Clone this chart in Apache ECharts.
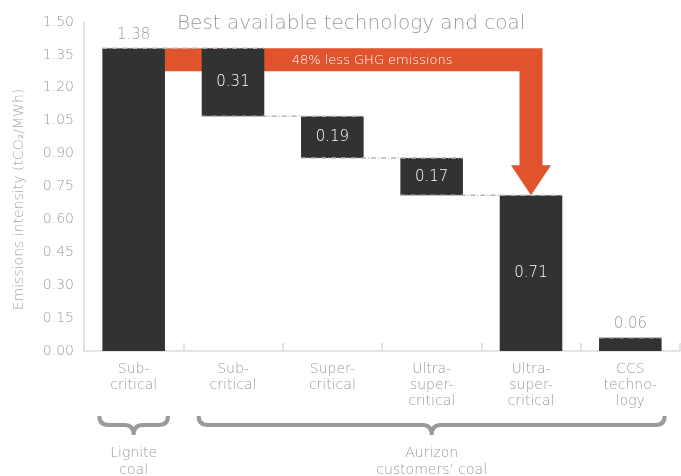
<!DOCTYPE html>
<html>
<head>
<meta charset="utf-8">
<style>
  html, body { margin: 0; padding: 0; background: #fff; }
  #chart { width: 681px; height: 476px; }
</style>
<script src="https://cdn.jsdelivr.net/npm/echarts@6/dist/echarts.min.js"></script>
</head>
<body>
<div id="chart"></div>
<script>
// waterfall data
const categories = ['Sub-\ncritical', 'Sub-\ncritical', 'Super-\ncritical', 'Ultra-\nsuper-\ncritical', 'Ultra-\nsuper-\ncritical', 'CCS\ntechno-\nlogy'];
const baseValues = [0, 1.07, 0.88, 0.71, 0, 0];
const stepValues = [1.38, 0.31, 0.19, 0.17, 0.71, 0.06];
const outsideLabel = [true, false, false, false, false, true];
// dash-dot connectors: [fromIndex, toIndex, level]
const connectors = [[0, 1, 1.38], [1, 2, 1.07], [2, 3, 0.88], [3, 4, 0.71], [5, 5, 0.06]];
// big arrow: [fromIndex, toIndex, fromLevel, toLevel]
const arrowData = [[0, 4, 1.38, 0.71]];
const arrowText = '48% less GHG emissions';
// brace groups under the axis: [fromIndex, toIndex]
const groupRanges = [[0, 0], [1, 5]];
const groupNames = ['Lignite\ncoal', 'Aurizon\ncustomers\u2019 coal'];

const FONT = '"DejaVu Sans", sans-serif';
const GREY = '#9a9a9a';
const DARK = '#313332';
const ORANGE = '#e0532c';
const BAR_RATIO = 0.63;

const chart = echarts.init(document.getElementById('chart'));

function halfBar(api) {
    return api.size([1, 0])[0] * BAR_RATIO / 2;
}

const option = {
    animation: false,
    textStyle: { fontFamily: FONT },
    title: {
        text: 'Best available technology and coal',
        left: 172,
        top: 9,
        textStyle: { color: GREY, fontSize: 20, fontWeight: 200, fontFamily: FONT }
    },
    grid: { left: 84, right: 1, top: 22, bottom: 125 },
    xAxis: {
        type: 'category',
        data: categories,
        axisLine: { lineStyle: { color: '#dcdcdc', width: 1.5 } },
        axisTick: { show: true, inside: true, length: 8, lineStyle: { color: '#dcdcdc', width: 1.5 } },
        axisLabel: { interval: 0, color: GREY, fontSize: 14, lineHeight: 16, margin: 10, fontWeight: 200 }
    },
    yAxis: {
        type: 'value',
        min: 0,
        max: 1.5,
        interval: 0.15,
        name: 'Emissions intensity (tCO\u2082/MWh)',
        nameLocation: 'middle',
        nameGap: 58,
        nameTextStyle: { color: '#aaaaaa', fontSize: 14, fontWeight: 200, padding: [0, 26, 0, 0] },
        axisLine: { show: true, lineStyle: { color: '#dcdcdc', width: 1.5 } },
        axisTick: { show: false },
        splitLine: { show: false },
        axisLabel: {
            color: GREY, fontSize: 14, margin: 10, fontWeight: 200,
            formatter: v => v.toFixed(2)
        }
    },
    series: [
        {
            type: 'custom',
            name: 'arrow',
            z: 1,
            clip: false,
            encode: { x: [0, 1], y: [2, 3] },
            data: arrowData,
            renderItem: function (params, api) {
                const p0 = api.coord([api.value(0), api.value(2)]);
                const p1 = api.coord([api.value(1), api.value(3)]);
                const hb = halfBar(api);
                const th = 23, headH = 30, headW = 40;
                const x0 = p0[0] + hb, top = p0[1];
                const cx = p1[0], tip = p1[1];
                const sl = cx - th / 2, sr = cx + th / 2;
                const nextLeft = api.coord([api.value(0) + 1, 0])[0] - hb;
                return {
                    type: 'group',
                    children: [{
                        type: 'polygon',
                        shape: {
                            points: [
                                [x0, top], [sr, top], [sr, tip - headH], [cx + headW / 2, tip - headH],
                                [cx, tip], [cx - headW / 2, tip - headH], [sl, tip - headH],
                                [sl, top + th], [x0, top + th]
                            ]
                        },
                        style: { fill: ORANGE }
                    }, {
                        type: 'text',
                        z2: 10,
                        style: {
                            text: arrowText,
                            x: (nextLeft + sr) / 2,
                            y: top + th / 2 + 1,
                            fill: '#ffffff',
                            fontSize: 13,
                            fontFamily: FONT,
                            fontWeight: 200,
                            align: 'center',
                            verticalAlign: 'middle'
                        }
                    }]
                };
            }
        },
        {
            type: 'bar',
            name: 'base',
            stack: 'w',
            z: 2,
            barWidth: (BAR_RATIO * 100) + '%',
            itemStyle: { color: 'transparent' },
            emphasis: { disabled: true },
            data: baseValues
        },
        {
            type: 'bar',
            name: 'value',
            stack: 'w',
            z: 2,
            barWidth: (BAR_RATIO * 100) + '%',
            itemStyle: { color: DARK },
            label: {
                show: true,
                position: 'inside',
                color: '#ffffff',
                fontSize: 15,
                fontWeight: 200,
                formatter: p => p.value.toFixed(2)
            },
            data: stepValues.map((v, i) => outsideLabel[i]
                ? { value: v, label: { position: 'top', color: GREY, distance: 6 } }
                : v)
        },
        {
            type: 'custom',
            name: 'connectors',
            z: 3,
            encode: { x: [0, 1], y: 2 },
            data: connectors,
            renderItem: function (params, api) {
                const a = api.coord([api.value(0), api.value(2)]);
                const b = api.coord([api.value(1), api.value(2)]);
                const hb = halfBar(api);
                return {
                    type: 'line',
                    shape: { x1: a[0] - hb, y1: a[1], x2: b[0] + hb, y2: b[1] },
                    style: { stroke: '#b5b5b5', lineWidth: 1.5, lineDash: [5, 2, 1, 2] }
                };
            }
        },
        {
            type: 'custom',
            name: 'groups',
            z: 3,
            clip: false,
            encode: { x: [0, 1] },
            data: groupRanges,
            renderItem: function (params, api) {
                const hb = halfBar(api);
                const yb = api.coord([0, 0])[1];
                const x0 = api.coord([api.value(0), 0])[0] - hb - 3;
                const x1 = api.coord([api.value(1), 0])[0] + hb + 3;
                const mid = (x0 + x1) / 2;
                const top = yb + 65, h = yb + 74, tip = yb + 84, r = 9;
                const d = 'M' + x0 + ' ' + top + ' Q' + x0 + ' ' + h + ' ' + (x0 + r) + ' ' + h +
                    ' L' + (mid - r) + ' ' + h + ' Q' + mid + ' ' + h + ' ' + mid + ' ' + tip +
                    ' Q' + mid + ' ' + h + ' ' + (mid + r) + ' ' + h +
                    ' L' + (x1 - r) + ' ' + h + ' Q' + x1 + ' ' + h + ' ' + x1 + ' ' + top;
                return {
                    type: 'group',
                    children: [{
                        type: 'path',
                        shape: { pathData: d },
                        style: { fill: 'none', stroke: GREY, lineWidth: 4 }
                    }, {
                        type: 'text',
                        style: {
                            text: groupNames[params.dataIndex],
                            x: mid,
                            y: yb + 111,
                            fill: GREY,
                            fontSize: 14,
                            lineHeight: 17,
                            fontFamily: FONT,
                            fontWeight: 200,
                            align: 'center',
                            verticalAlign: 'middle'
                        }
                    }]
                };
            }
        }
    ]
};

chart.setOption(option);
</script>
</body>
</html>
